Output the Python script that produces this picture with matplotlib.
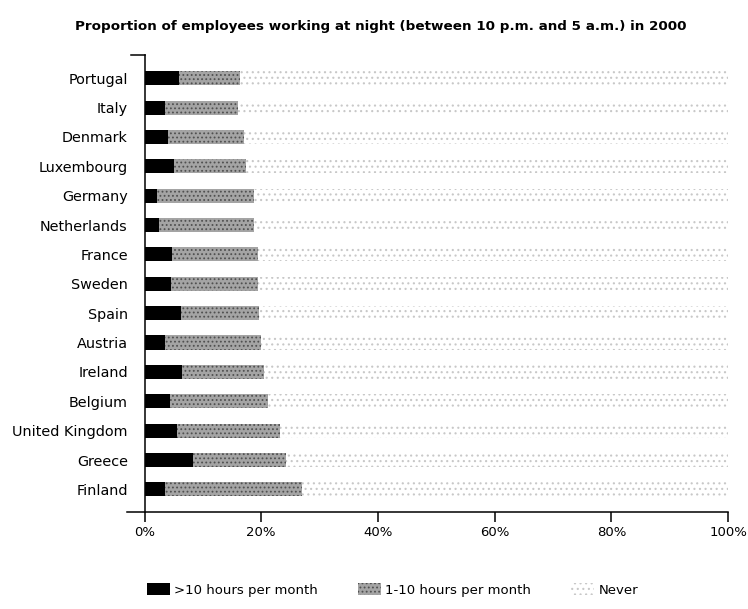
import matplotlib
matplotlib.use("Agg")
import matplotlib.pyplot as plt

# Values (percent of employees)
countries = ["Portugal", "Italy", "Denmark", "Luxembourg", "Germany", "Netherlands",
             "France", "Sweden", "Spain", "Austria", "Ireland", "Belgium",
             "United Kingdom", "Greece", "Finland"]
over_10h = [5.9, 3.5, 4.0, 5.0, 2.2, 2.4, 4.7, 4.6, 6.3, 3.5, 6.5, 4.3, 5.6, 8.3, 3.5]
one_to_10h = [10.4, 12.5, 13.1, 12.4, 16.6, 16.3, 14.8, 14.8, 13.4, 16.5, 14.0, 16.8, 17.7, 16.0, 23.5]
never = [83.7, 84.0, 82.9, 82.6, 81.2, 81.3, 80.5, 80.6, 80.3, 80.0, 79.5, 78.9, 76.7, 75.7, 73.0]
series_labels = [">10 hours per month", "1-10 hours per month", "Never"]
xticks = [0, 20, 40, 60, 80, 100]
xtick_labels = ["0%", "20%", "40%", "60%", "80%", "100%"]

plt.rcParams["hatch.linewidth"] = 0.8

fig = plt.figure(figsize=(7.48, 6.09), dpi=100)
ax = fig.add_axes([0.1932, 0.1593, 0.7801, 0.7504])

y = list(range(len(countries)))
left2 = [a for a in over_10h]
left3 = [a + b for a, b in zip(over_10h, one_to_10h)]

h = 0.48
b1 = ax.barh(y, over_10h, height=h, color="black", linewidth=0, label=series_labels[0])
b2 = ax.barh(y, one_to_10h, left=left2, height=h, facecolor="#a4a4a4",
             edgecolor="#505050", hatch="....", linewidth=0, label=series_labels[1])
b3 = ax.barh(y, never, left=left3, height=h, facecolor="white",
             edgecolor="#c8c8c8", hatch="...", linewidth=0, label=series_labels[2])

ax.set_xlim(0, 100)
ax.set_ylim(14.77, -0.79)
ax.set_yticks(y)
ax.set_yticklabels(countries, fontsize=10.4)
ax.set_xticks(xticks)
ax.set_xticklabels(xtick_labels, fontsize=9.5)
ax.tick_params(axis="y", length=0, pad=12)
ax.tick_params(axis="x", direction="out", length=7.2, width=1.1, pad=3)

for s in ["top", "right", "bottom", "left"]:
    ax.spines[s].set_visible(False)
# axis lines like the original: x axis runs a bit past the y axis on the left,
# small stub at the top of the y axis
ax.plot([-0.03, 1.0], [0, 0], transform=ax.transAxes, color="black", lw=1.1, clip_on=False)
ax.plot([0, 0], [0, 1], transform=ax.transAxes, color="black", lw=1.1, clip_on=False)
ax.plot([-0.024, 0], [1, 1], transform=ax.transAxes, color="black", lw=1.1, clip_on=False)

fig.text(0.509, 0.957, "Proportion of employees working at night (between 10 p.m. and 5 a.m.) in 2000",
         ha="center", va="center", fontsize=9.7, fontweight="bold")

fig.legend(handles=[b1, b2, b3], labels=series_labels, loc="center left",
           bbox_to_anchor=(0.18, 0.031), ncol=3, frameon=False, fontsize=9.5,
           handlelength=1.8, handleheight=1.0, handletextpad=0.3, columnspacing=3.0)

fig.savefig("out.png", dpi=100)
